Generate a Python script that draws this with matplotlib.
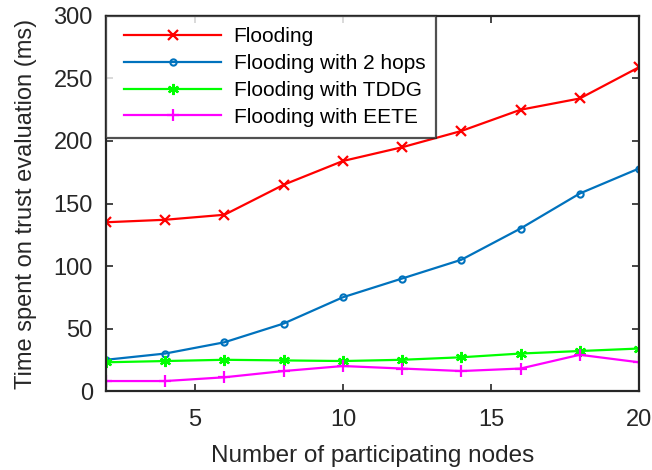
import matplotlib
matplotlib.use("Agg")
import matplotlib.pyplot as plt
from matplotlib.lines import Line2D
from matplotlib.legend_handler import HandlerLine2D

x = [2, 4, 6, 8, 10, 12, 14, 16, 18, 20]
flooding = [135, 137, 141, 165, 184, 195, 208, 225, 234, 259]
hops2 = [25, 30, 39, 54, 75, 90, 105, 130, 158, 178]
tddg = [23, 24, 25, 24.5, 24, 25, 27, 30, 32, 34]
eete = [8, 8, 11, 16, 20, 18, 16, 18, 29, 23]
labels = ["Flooding", "Flooding with 2 hops", "Flooding with TDDG", "Flooding with EETE"]

plt.rcParams['font.family'] = ['Liberation Sans', 'DejaVu Sans']
fig = plt.figure(figsize=(6.52, 4.70), dpi=100)
ax = fig.add_axes([0.1626, 0.168, 0.8174, 0.798])

ax.plot(x, flooding, color='#FF0000', lw=1.6, marker='x', ms=7, mew=1.6, label=labels[0])
ax.plot(x, hops2, color='#0072BD', lw=1.6, marker='o', ms=4.5, mfc='none', mew=1.5, label=labels[1])
ax.plot(x, tddg, color='#00FF00', lw=1.6, marker=(6, 2, 0), ms=8, mew=1.6, label=labels[2])
ax.plot(x, eete, color='#FF00FF', lw=1.6, marker='+', ms=8, mew=1.6, label=labels[3])

ax.set_xlim(2, 20)
ax.set_ylim(0, 300)
ax.set_xticks([5, 10, 15, 20])
ax.set_yticks(range(0, 301, 50))
ax.tick_params(direction='in', top=True, right=True, length=5, width=1.2, labelsize=17,
               colors='#262626')
ax.tick_params(axis='x', pad=13)
ax.tick_params(axis='y', pad=9.5)
for s in ax.spines.values():
    s.set_linewidth(1.6)
    s.set_color('#262626')
ax.set_xlabel("Number of participating nodes", fontsize=17.5, color='#262626', labelpad=10)
ax.set_ylabel("Time spent on trust evaluation (ms)", fontsize=17, color='#262626', labelpad=11.5)

leg = ax.legend(loc='upper left', bbox_to_anchor=(0, 1), fontsize=15, frameon=True, fancybox=False,
                edgecolor='#262626', borderaxespad=0, handlelength=5.0, handletextpad=0.6,
                labelspacing=0.38, borderpad=0.53,
                handler_map={Line2D: HandlerLine2D(xpad=0.34)})
leg.get_frame().set_linewidth(1.6)

fig.savefig("out.png", dpi=100)
